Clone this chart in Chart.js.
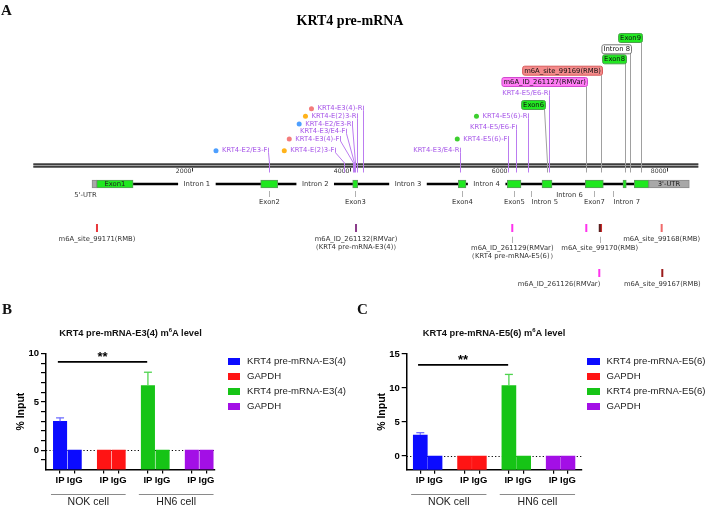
<!DOCTYPE html>
<html>
<head>
<meta charset="utf-8">
<title>KRT4 pre-mRNA m6A</title>
<script src="https://cdn.jsdelivr.net/npm/chart.js@4.4.1/dist/chart.umd.min.js"></script>
<style>
  html, body { margin: 0; background: #fff; }
  #page { position: relative; width: 706px; height: 507px; overflow: hidden; font-family: "Liberation Sans", Arial, sans-serif; color: #111; }
  #page canvas { position: absolute; }
  .letter { position: absolute; font: bold 15px "Liberation Serif", serif; line-height: 1; }
  .title { position: absolute; font-weight: bold; font-size: 9.3px; white-space: nowrap; transform: translate(-50%, -50%); line-height: 1; }
  .title sup { font-size: 6px; vertical-align: 4px; line-height: 0; }
  .legend { position: absolute; font-size: 9.6px; line-height: 10px; white-space: nowrap; color: #222; }
  .legend div { position: relative; height: 15px; padding-left: 19.5px; }
  .legend span { position: absolute; left: 0; top: 1.5px; width: 12.5px; height: 7px; }
</style>
</head>
<body>
<div id="page">
  <canvas id="gene" width="706" height="300" style="left:0;top:0"></canvas>
  <canvas id="chartB" width="350" height="207" style="left:0;top:300px"></canvas>
  <canvas id="chartC" width="356" height="207" style="left:350px;top:300px"></canvas>
  <div class="letter" style="left:1px;top:3px">A</div>
  <div class="letter" style="left:2px;top:302px">B</div>
  <div class="letter" style="left:357px;top:302px">C</div>
  <div class="title" style="left:130.5px;top:333.5px">KRT4 pre-mRNA-E3(4) m<sup>6</sup>A level</div>
  <div class="title" style="left:494px;top:333.5px">KRT4 pre-mRNA-E5(6) m<sup>6</sup>A level</div>
  <div class="legend" id="legendB" style="left:227.5px;top:356px"></div>
  <div class="legend" id="legendC" style="left:587px;top:356px"></div>
</div>
<script>
Chart.defaults.font.family = '"Liberation Sans", Arial, sans-serif'
Chart.defaults.color = '#000'

// ---------------- panel A: gene model (positions in nt) ----------------
const axisSpan = [0, 8400]
const axisTicks = [2000, 4000, 6000, 8000]
const exonNames = ['Exon1', 'Exon2', 'Exon3', 'Exon4', 'Exon5', 'Exon6', 'Exon7', 'Exon8', 'Exon9']
const exonStart = [801, 2872, 4034, 5368, 5987, 6425, 6972, 7448, 7591]
const exonEnd = [1260, 3087, 4097, 5465, 6160, 6552, 7200, 7490, 7773]
const utrNames = ["5'-UTR", "3'-UTR"]
const utrStart = [741, 7773]
const utrEnd = [801, 8286]

const primerNames = ['KRT4-E2/E3-F', 'KRT4-E(2)3-F', 'KRT4-E3(4)-F', 'KRT4-E3/E4-F', 'KRT4-E2/E3-R', 'KRT4-E(2)3-R',
    'KRT4-E3(4)-R', 'KRT4-E3/E4-R', 'KRT4-E5(6)-F', 'KRT4-E5/E6-F', 'KRT4-E5(6)-R', 'KRT4-E5/E6-R']
const primerSites = [2973, 3924, 4038, 4050, 4063, 4092, 4160, 5390, 5999, 6097, 6245, 6518]

const m6aNames = ['m6A_site_99171(RMB)', 'm6A_ID_261132(RMVar)', 'm6A_ID_261129(RMVar)', 'm6A_ID_261127(RMVar)',
    'm6A_site_99169(RMB)', 'm6A_site_99170(RMB)', 'm6A_site_99168(RMB)', 'm6A_ID_261126(RMVar)', 'm6A_site_99167(RMB)']
const m6aSites = [804, 4076, 6050, 6985, 7171, 7155, 7937, 7149, 7945]
const m6aNotes = ['', '（KRT4 pre-mRNA-E3(4)）', '（KRT4 pre-mRNA-E5(6)）', '', '', '', '', '', '']

const calloutNames = ['Exon6', 'm6A_ID_261127(RMVar)', 'm6A_site_99169(RMB)', 'Exon8', 'Intron 8', 'Exon9']
const inlineIntrons = ['Intron 1', 'Intron 2', 'Intron 3', 'Intron 4']
const lowerFeatures = ['Exon2', 'Exon3', 'Exon4', 'Exon5', 'Intron 5', 'Intron 6', 'Exon7', 'Intron 7']

// layout of panel A (canvas pixels / styling only)
const L = { axisY: 165.5, structY: 184, featY: 202.7, featUpperY: 195, markY: [228, 273] }
const primerRowY = [150.7, 150.7, 139, 131.7, 124, 116.3, 108.7, 150.7, 139, 127.7, 116.3, 93.3]
const primerShift = [-1, -9, -13, -8, -3, 0, 0, 0, 0, 0, 0, 0]
const primerDot = ['#4d9fff', '#ffb31a', '#f47c7c', null, '#4d9fff', '#ffb31a', '#f47c7c', null, '#3ccf2e', null, '#3ccf2e', null]
const calloutRowY = [105, 82, 70.7, 59.3, 49.3, 38]
const calloutShift = [-2, 1, 1, 1, 1, 1]
const featAlign = ['center', 'center', 'center', 'center', 'left', 'center', 'center', 'left']
const featUpper = [0, 0, 0, 0, 0, 1, 0, 0]
const m6aColor = ['#e8383c', '#8b3d8b', '#ff33ee', '#ff33ee', '#cc2a2a', '#5a1e1e', '#f06a6a', '#ff33ee', '#9c1c1c']
const m6aRow = [0, 0, 0, 0, 0, 0, 0, 1, 1]
const m6aMode = ['below', 'below', 'stem', 'none', 'none', 'stem', 'below', 'left', 'below']

const FONT_A = '6.8px "DejaVu Sans", Verdana, sans-serif'
const PURPLE = '#a655e8'

function featureSite(name) {
    let i = exonNames.indexOf(name)
    if (i >= 0) return (exonStart[i] + exonEnd[i]) / 2
    const m = /^Intron (\d)$/.exec(name)
    if (m) return (exonEnd[+m[1] - 1] + exonStart[+m[1]]) / 2
    return m6aSites[m6aNames.indexOf(name)]
}

function line(ctx, pts) {
    ctx.beginPath()
    pts.forEach((p, i) => i ? ctx.lineTo(p[0], p[1]) : ctx.moveTo(p[0], p[1]))
    ctx.stroke()
}

const genePlugin = {
    id: 'genePlugin',
    beforeDatasetsDraw(chart) {
        const ctx = chart.ctx
        const px = v => chart.scales.x.getPixelForValue(v)
        const py = v => chart.scales.y.getPixelForValue(v)
        ctx.save()
        ctx.fillStyle = '#000'
        ctx.font = 'bold 14px "Liberation Serif", serif'
        ctx.textAlign = 'center'
        ctx.textBaseline = 'middle'
        ctx.fillText('KRT4 pre-mRNA', 350, py(21))

        // double-line coordinate axis
        const a0 = px(axisSpan[0]), a1 = px(axisSpan[1]), ay = py(L.axisY)
        ctx.fillStyle = '#a0a0a0'
        ctx.fillRect(a0, ay - 2, a1 - a0, 4)
        ctx.fillStyle = '#151515'
        ctx.fillRect(a0, ay - 2, a1 - a0, 1.2)
        ctx.fillRect(a0, ay + 0.8, a1 - a0, 1.2)
        ctx.font = '6.2px "DejaVu Sans", sans-serif'
        ctx.fillStyle = '#333'
        ctx.strokeStyle = '#333'
        ctx.lineWidth = 1
        ctx.textAlign = 'right'
        axisTicks.forEach(t => {
            const x = Math.round(px(t)) + 0.5
            line(ctx, [[x, ay + 2.5], [x, ay + 6]])
            ctx.fillText(String(t), x - 1, ay + 5.5)
        })

        // intron backbone with gaps for the inline intron names
        ctx.font = FONT_A
        const gaps = inlineIntrons.map(n => {
            const c = px(featureSite(n)), h = ctx.measureText(n).width / 2 + 5.5
            return [c - h, c + h]
        })
        let x0 = px(exonEnd[0])
        const sy = py(L.structY)
        ctx.strokeStyle = '#000'
        ctx.lineWidth = 2.6
        gaps.forEach(g => { line(ctx, [[x0, sy], [g[0], sy]]); x0 = g[1] })
        line(ctx, [[x0, sy], [px(exonStart[exonStart.length - 1]), sy]])
        ctx.fillStyle = '#333'
        ctx.textAlign = 'center'
        inlineIntrons.forEach(n => ctx.fillText(n, px(featureSite(n)), sy))
        ctx.restore()
    },
    afterDatasetsDraw(chart) {
        const ctx = chart.ctx
        const px = v => chart.scales.x.getPixelForValue(v)
        const py = v => chart.scales.y.getPixelForValue(v)
        const ay = py(L.axisY), sy = py(L.structY)
        ctx.save()
        ctx.font = FONT_A
        ctx.textBaseline = 'middle'
        ctx.lineWidth = 1

        // names inside the gene model
        ctx.fillStyle = '#222'
        ctx.textAlign = 'center'
        ctx.fillText(exonNames[0], px(featureSite(exonNames[0])), sy)
        ctx.fillText(utrNames[1], px((utrStart[1] + utrEnd[1]) / 2), sy)
        ctx.fillStyle = '#333'
        ctx.textAlign = 'right'
        ctx.fillText(utrNames[0], px(utrEnd[0]), py(L.featUpperY))

        // feature names under the model
        ctx.strokeStyle = '#b0b0b0'
        lowerFeatures.forEach((n, i) => {
            const x = Math.round(px(featureSite(n))) + 0.5
            ctx.textAlign = featAlign[i]
            if (featUpper[i]) {
                ctx.fillText(n, x, py(L.featUpperY))
            } else {
                line(ctx, [[x, sy + 7], [x, sy + 13]])
                ctx.fillText(n, x, py(L.featY))
            }
        })

        // m6A site marks and names
        m6aNames.forEach((n, i) => {
            const x = px(m6aSites[i]), my = py(L.markY[m6aRow[i]])
            ctx.fillStyle = m6aColor[i]
            ctx.fillRect(x - 1, my - 4, 2, 8)
            ctx.fillStyle = '#333'
            ctx.strokeStyle = '#b0b0b0'
            const mode = m6aMode[i]
            let ty = my + 11.3
            if (mode === 'none') return
            if (mode === 'stem') {
                line(ctx, [[Math.round(x) + 0.5, my + 8.7], [Math.round(x) + 0.5, my + 15]])
                ty = my + 20.3
            }
            ctx.textAlign = mode === 'left' ? 'right' : 'center'
            ctx.fillText(n, mode === 'left' ? x + 1 : x, ty)
            if (m6aNotes[i]) ctx.fillText(m6aNotes[i], x, ty + 8.4)
        })

        // primer labels with leader lines
        primerNames.forEach((n, i) => {
            const sx = Math.round(px(primerSites[i])) + 0.5
            const right = sx - 1 + primerShift[i]
            const ty = py(primerRowY[i])
            const w = ctx.measureText(n).width
            ctx.strokeStyle = '#bb7cf0'
            line(ctx, [[right + 1, ty - 3], [right + 1, ty + 2], [sx, ay - 2.5], [sx, ay + 7]])
            ctx.fillStyle = PURPLE
            ctx.textAlign = 'right'
            ctx.fillText(n, right, ty)
            if (primerDot[i]) {
                ctx.fillStyle = primerDot[i]
                ctx.beginPath()
                ctx.arc(right - w - 6, ty, 2.5, 0, Math.PI * 2)
                ctx.fill()
            }
        })

        // boxed call-outs above the axis
        calloutNames.forEach((n, i) => {
            const sx = Math.round(px(featureSite(n))) + 0.5
            const right = sx + calloutShift[i]
            const w = ctx.measureText(n).width + 3
            const ty = py(calloutRowY[i])
            ctx.strokeStyle = '#a0a0a0'
            line(ctx, [[right - 1, ty + 4.5], [sx, ay - 2.5], [sx, ay + 7]])
            let fill = '#fff', edge = '#777'
            if (n.startsWith('Exon')) { fill = '#22e822'; edge = '#4aa04a' }
            else if (n.includes('RMVar')) { fill = '#ff7cf4'; edge = '#d24ad0' }
            else if (n.includes('RMB')) { fill = '#f48b8b'; edge = '#d85a5a' }
            ctx.fillStyle = fill
            ctx.strokeStyle = edge
            ctx.beginPath()
            ctx.roundRect(right - w, ty - 4.5, w, 9, 2)
            ctx.fill()
            ctx.stroke()
            ctx.fillStyle = '#111'
            ctx.textAlign = 'center'
            ctx.fillText(n, right - w / 2, ty + 0.3)
        })
        ctx.restore()
    }
}

new Chart(document.getElementById('gene'), {
    type: 'bar',
    data: {
        datasets: [
            {
                label: 'UTR',
                data: utrStart.map((s, i) => ({ x: [s, utrEnd[i]], y: L.structY })),
                backgroundColor: '#a8a8a8', borderColor: '#8a8a8a', borderWidth: 1, borderSkipped: false, barThickness: 8
            },
            {
                label: 'Exon',
                data: exonStart.map((s, i) => ({ x: [s, exonEnd[i]], y: L.structY })),
                backgroundColor: '#1fe81f', borderColor: '#5d9a5d', borderWidth: 1, borderSkipped: false, barThickness: 8
            }
        ]
    },
    options: {
        indexAxis: 'y',
        responsive: false,
        animation: false,
        devicePixelRatio: 1,
        datasets: { bar: { grouped: false } },
        layout: { padding: 0 },
        plugins: { legend: { display: false }, tooltip: { enabled: false } },
        scales: {
            x: { type: 'linear', min: -421, max: 8497, display: false },
            y: { type: 'linear', min: 0, max: 300, reverse: true, offset: false, display: false }
        }
    },
    plugins: [genePlugin]
})

// ---------------- panels B and C: MeRIP-qPCR, % input ----------------
const sampleLabels = ['IP', 'IgG']
const cellGroups = ['NOK cell', 'HN6 cell']
const seriesB = ['KRT4 pre-mRNA-E3(4)', 'GAPDH', 'KRT4 pre-mRNA-E3(4)', 'GAPDH']
const seriesC = ['KRT4 pre-mRNA-E5(6)', 'GAPDH', 'KRT4 pre-mRNA-E5(6)', 'GAPDH']

// [IP, IgG]
const nokE34 = [3.0, 0]
const nokGapdhB = [0, 0]
const hn6E34 = [6.7, 0]
const hn6GapdhB = [0, 0]
const nokE34Err = [0.35, 0]
const hn6E34Err = [1.38, 0]

const nokE56 = [3.1, 0]
const nokGapdhC = [0, 0]
const hn6E56 = [10.35, 0]
const hn6GapdhC = [0, 0]
const nokE56Err = [0.34, 0]
const hn6E56Err = [1.65, 0]
const noErr = [0, 0]

const barColors = ['#0b0bff', '#ff1414', '#16c416', '#a30fe6']
const errColors = ['#7070ff', '#ff7070', '#4fd44f', '#c070f0']

const errorBarPlugin = {
    id: 'errorBars',
    afterDatasetsDraw(chart) {
        const { ctx } = chart
        const y = chart.scales.y
        ctx.save()
        ctx.lineWidth = 1.3
        chart.data.datasets.forEach((ds, i) => {
            chart.getDatasetMeta(i).data.forEach((bar, j) => {
                const e = ds.errors[j]
                if (!e) return
                const v = ds.data[j].y
                const top = y.getPixelForValue(v), hi = y.getPixelForValue(v + e)
                ctx.strokeStyle = ds.errColor
                line(ctx, [[bar.x, top], [bar.x, hi]])
                line(ctx, [[bar.x - 4, hi], [bar.x + 4, hi]])
            })
        })
        ctx.restore()
    }
}

function decorPlugin(o) {
    return {
        id: 'decor',
        beforeDatasetsDraw(chart) {
            const { ctx } = chart, x = chart.scales.x, y = chart.scales.y
            ctx.save()
            ctx.strokeStyle = '#000'
            ctx.lineWidth = 1
            ctx.setLineDash([1.2, 2.2])
            const zy = Math.round(y.getPixelForValue(0)) + 0.5
            line(ctx, [[x.left, zy], [x.right, zy]])
            ctx.restore()
        },
        afterDraw(chart) {
            const { ctx } = chart, x = chart.scales.x, y = chart.scales.y
            ctx.save()
            // significance bracket between NOK IP and HN6 IP
            const sy = y.getPixelForValue(o.sigLevel)
            const s0 = x.getPixelForValue(-0.15), s1 = x.getPixelForValue(5.95)
            ctx.strokeStyle = '#000'
            ctx.lineWidth = 1.7
            line(ctx, [[s0, sy], [s1, sy]])
            ctx.fillStyle = '#000'
            ctx.font = 'bold 13px "Liberation Sans", Arial, sans-serif'
            ctx.textAlign = 'center'
            ctx.textBaseline = 'alphabetic'
            ctx.fillText('**', (s0 + s1) / 2, sy - 0.5)
            // cell group brackets
            ctx.strokeStyle = '#8a8a8a'
            ctx.lineWidth = 1
            ctx.font = '10.5px "Liberation Sans", Arial, sans-serif'
            ctx.fillStyle = '#222'
            ctx.textBaseline = 'middle'
            cellGroups.forEach((g, k) => {
                const g0 = x.getPixelForValue(6 * k - 0.62), g1 = x.getPixelForValue(6 * k + 4.48)
                line(ctx, [[g0, 194.5], [g1, 194.5]])
                ctx.fillText(g, (g0 + g1) / 2, 202.5)
            })
            ctx.restore()
        }
    }
}

function makeBarChart(id, o) {
    const canvas = document.getElementById(id)
    const W = canvas.width, H = canvas.height, XH = 30
    const datasets = o.series.map((name, i) => ({
        label: name,
        data: o.values[i].map((v, j) => ({ x: 3 * i + j, y: v })),
        errors: o.errors[i],
        errColor: errColors[i],
        backgroundColor: barColors[i],
        borderWidth: 0,
        base: o.yMin,
        barThickness: o.barWidth
    }))
    const slots = datasets.flatMap(d => d.data.map(p => p.x))
    const tickFont = { family: '"Liberation Sans", Arial, sans-serif', size: 9.5, weight: 'bold' }
    const grid = { drawOnChartArea: false, drawTicks: true, tickLength: 5, color: '#000', lineWidth: 1.2, offset: false }
    return new Chart(canvas, {
        type: 'bar',
        data: { datasets },
        options: {
            responsive: false,
            animation: false,
            devicePixelRatio: 1,
            datasets: { bar: { grouped: false } },
            layout: { padding: { left: 0, top: o.area.top, right: W - o.area.right, bottom: H - o.area.bottom - XH } },
            plugins: { legend: { display: false }, tooltip: { enabled: false } },
            scales: {
                x: {
                    type: 'linear', min: o.xMin, max: o.xMax, offset: false,
                    afterBuildTicks: s => { s.ticks = slots.map(v => ({ value: v })) },
                    afterFit: s => { s.height = XH },
                    ticks: { autoSkip: false, maxRotation: 0, padding: 1, font: tickFont, callback: v => sampleLabels[v % 3] },
                    grid: { ...grid, tickLength: 4 },
                    border: { color: '#000', width: 1.5 }
                },
                y: {
                    min: o.yMin, max: o.yMax,
                    afterBuildTicks: s => { s.ticks = o.yTicks.map(v => ({ value: v })) },
                    afterFit: s => { s.width = o.area.left },
                    ticks: { autoSkip: false, padding: 2, font: tickFont, callback: v => (v % 5 === 0 && v >= 0 ? String(v) : '') },
                    grid,
                    border: { color: '#000', width: 1.5 },
                    title: {
                        display: true, text: '% Input', color: '#000',
                        font: { family: '"Liberation Sans", Arial, sans-serif', size: 10.5, weight: 'bold' },
                        padding: { top: o.titlePad, bottom: 0 }
                    }
                }
            }
        },
        plugins: [errorBarPlugin, decorPlugin(o)]
    })
}

function buildLegend(chart, boxId) {
    const box = document.getElementById(boxId)
    chart.data.datasets.forEach(ds => {
        const row = document.createElement('div')
        const sw = document.createElement('span')
        sw.style.background = ds.backgroundColor
        row.appendChild(sw)
        row.appendChild(document.createTextNode(ds.label))
        box.appendChild(row)
    })
}

const chartB = makeBarChart('chartB', {
    series: seriesB,
    values: [nokE34, nokGapdhB, hn6E34, hn6GapdhB],
    errors: [nokE34Err, noErr, hn6E34Err, noErr],
    area: { left: 46, right: 215, top: 53.7, bottom: 169.5 },
    xMin: -0.96, xMax: 10.58, barWidth: 13.4,
    yMin: -2, yMax: 10, yTicks: [-1, 0, 1, 2, 3, 4, 5, 6, 7, 8, 9, 10],
    titlePad: 14.7, sigLevel: 9.15
})

const chartC = makeBarChart('chartC', {
    series: seriesC,
    values: [nokE56, nokGapdhC, hn6E56, hn6GapdhC],
    errors: [nokE56Err, noErr, hn6E56Err, noErr],
    area: { left: 56.7, right: 231.7, top: 54, bottom: 169.7 },
    xMin: -0.92, xMax: 10.93, barWidth: 14,
    yMin: -2, yMax: 15, yTicks: [0, 5, 10, 15],
    titlePad: 25.7, sigLevel: 13.4
})

buildLegend(chartB, 'legendB')
buildLegend(chartC, 'legendC')
</script>
</body>
</html>
